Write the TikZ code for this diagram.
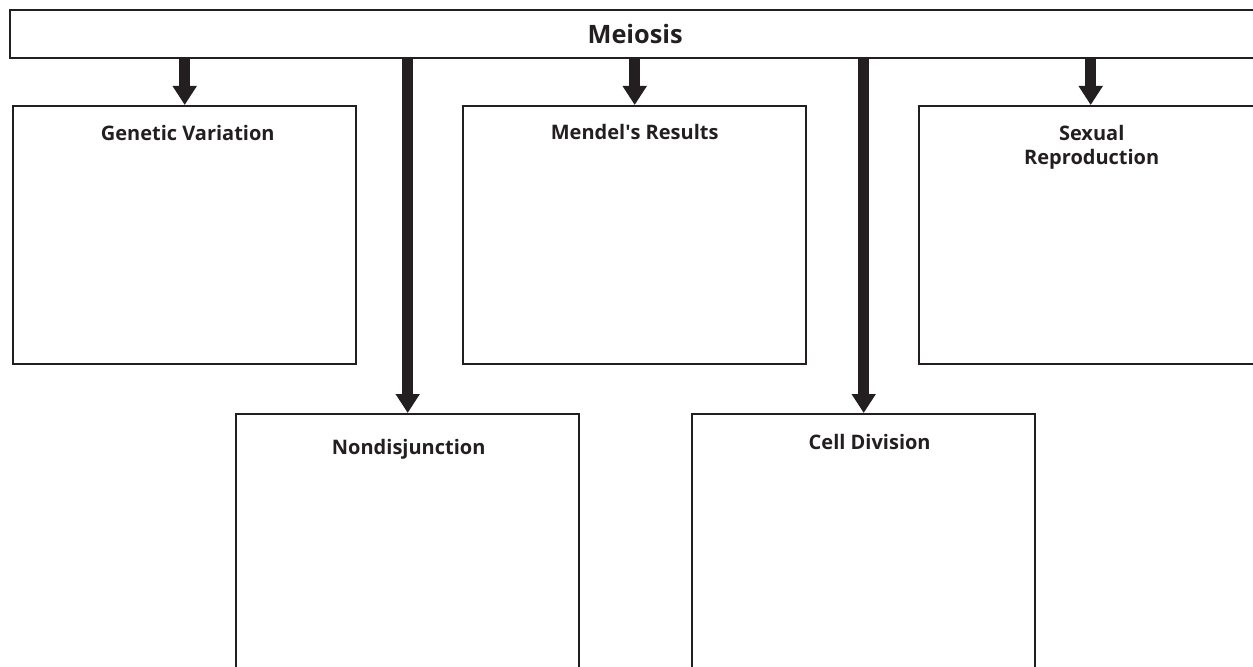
\documentclass[tikz,border=0pt]{standalone}
\usepackage{fontspec}
\setmainfont{Open Sans}
\usetikzlibrary{arrows.meta,positioning}
\definecolor{InkBlack}{HTML}{231F20}

\begin{document}
\begin{tikzpicture}[
  x=0.75pt, y=-0.75pt,
  topbar/.style={draw=InkBlack, line width=1.8pt, minimum width=937.5pt,
    minimum height=36pt, inner sep=0pt, text=InkBlack,
    font=\bfseries\fontsize{19}{22}\selectfont},
  panel/.style={draw=InkBlack, line width=1.8pt, minimum width=257.25pt,
    minimum height=193.5pt, inner sep=0pt},
  heading/.style={anchor=base, align=center, inner sep=0pt, text=InkBlack,
    font=\bfseries\fontsize{15}{18}\selectfont},
  bigarrow/.style={-{Triangle[width=17.25pt, length=14.25pt]},
    line width=8.25pt, draw=InkBlack}
]
\useasboundingbox (0,0) rectangle (1253,667);
\clip (0,0) rectangle (1253,667);

% top bar
\node[topbar, anchor=north west] (meiosis) at (9,9) {Meiosis};

% upper row
\node[panel, anchor=north west] (genvar) at (12,105) {};
\node[panel, anchor=north west] (mendel) at (462,105) {};
\node[panel, anchor=north west] (sexrep) at (918,105) {};

% lower row
\node[panel, anchor=north west] (nondis) at (235,413) {};
\node[panel, anchor=north west] (celldiv) at (691,413) {};

% headings
\node[heading] (genvartitle) at ([shift={(3,35)}]genvar.north) {Genetic Variation};
\node[heading] (mendeltitle) at ([shift={(0,34)}]mendel.north) {Mendel\textquotesingle s Results};
\node[heading] (sexreptitle) at ([shift={(1,59)}]sexrep.north) {Sexual\\Reproduction};
\node[heading] (nondistitle) at ([shift={(1,41)}]nondis.north) {Nondisjunction};
\node[heading] (celldivtitle) at ([shift={(6,36)}]celldiv.north) {Cell Division};

% arrows
\draw[bigarrow] (meiosis.south -| genvar.north) -- (genvar.north);
\draw[bigarrow] (meiosis.south -| mendel.north) -- (mendel.north);
\draw[bigarrow] (meiosis.south -| sexrep.north) -- (sexrep.north);
\draw[bigarrow] (meiosis.south -| nondis.north) -- (nondis.north);
\draw[bigarrow] (meiosis.south -| celldiv.north) -- (celldiv.north);
\end{tikzpicture}
\end{document}
